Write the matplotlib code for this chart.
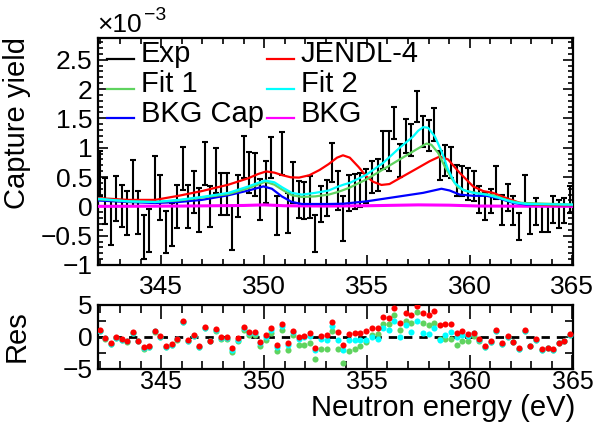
import matplotlib
matplotlib.use("Agg")
import matplotlib.pyplot as plt
from matplotlib.lines import Line2D
from matplotlib.ticker import MultipleLocator, FuncFormatter

plt.rcParams["font.family"] = ["Liberation Sans", "DejaVu Sans"]

# measured points (capture yield in units of 1e-3)
energy = [342.00, 342.27, 342.54, 342.81, 343.08, 343.35, 343.62, 343.89, 344.15, 344.42,
          344.69, 344.96, 345.23, 345.50, 345.77, 346.04, 346.31, 346.58, 346.85, 347.12,
          347.39, 347.66, 347.92, 348.19, 348.46, 348.73, 349.00, 349.27, 349.54, 349.81,
          350.08, 350.35, 350.62, 350.89, 351.16, 351.43, 351.69, 351.96, 352.23, 352.50,
          352.77, 353.04, 353.31, 353.59, 353.86, 354.14, 354.41, 354.69, 354.96, 355.24,
          355.52, 355.79, 356.07, 356.34, 356.62, 356.89, 357.17, 357.45, 357.72, 358.00,
          358.27, 358.55, 358.82, 359.10, 359.37, 359.65, 359.93, 360.20, 360.48, 360.75,
          361.03, 361.30, 361.58, 361.86, 362.13, 362.41, 362.68, 362.96, 363.23, 363.51,
          363.79, 364.06, 364.34, 364.61, 364.89]
exp_y = [0.56, 0.09, -0.27, 0.13, 0.01, -0.11, 0.40, -0.11, -0.52, -0.41,
         0.46, 0.15, -0.44, -0.31, 0.00, 0.65, 0.00, 0.24, -0.06, 0.73,
         -0.01, 0.61, 0.21, 0.21, -0.37, 0.18, 0.84, 0.58, 0.54, 0.11,
         0.41, 0.83, -0.16, 0.90, -0.11, 0.41, 0.12, 0.10, 0.16, -0.46,
         0.04, 0.14, 0.75, 0.27, -0.21, 0.23, 0.25, 0.28, 0.35, 0.50,
         0.53, 0.96, 0.94, 1.42, 0.78, 1.20, 1.13, 1.70, 1.28, 1.21,
         1.39, 0.70, 0.78, 0.75, 0.44, 0.43, 0.38, 0.35, 0.11, 0.00,
         0.09, 0.40, -0.06, 0.15, -0.07, -0.34, 0.27, -0.24, -0.09, -0.20,
         -0.20, -0.05, -0.13, -0.07, 0.11]
exp_err = [0.39, 0.39, 0.39, 0.38, 0.36, 0.375, 0.39, 0.37, 0.375, 0.36,
           0.39, 0.39, 0.355, 0.37, 0.365, 0.37, 0.37, 0.36, 0.37, 0.365,
           0.35, 0.385, 0.35, 0.355, 0.37, 0.355, 0.355, 0.355, 0.37, 0.35,
           0.355, 0.35, 0.33, 0.36, 0.34, 0.35, 0.32, 0.31, 0.355, 0.31,
           0.30, 0.31, 0.33, 0.33, 0.38, 0.31, 0.30, 0.29, 0.29, 0.28,
           0.27, 0.33, 0.34, 0.28, 0.28, 0.29, 0.28, 0.26, 0.26, 0.27,
           0.28, 0.25, 0.27, 0.27, 0.27, 0.26, 0.27, 0.26, 0.23, 0.23,
           0.20, 0.28, 0.26, 0.23, 0.24, 0.23, 0.27, 0.24, 0.23, 0.23,
           0.23, 0.23, 0.24, 0.21, 0.23]

# model curves
jendl_e = [341.92, 343.40, 344.70, 345.84, 346.97, 348.27, 349.24, 349.70, 350.10, 350.50,
           350.90, 351.30, 351.70, 352.20, 352.70, 353.14, 353.55, 353.84, 354.17, 354.60,
           354.98, 355.30, 355.71, 356.10, 356.60, 357.41, 358.06, 358.55, 358.95, 359.52,
           360.17, 360.66, 361.14, 361.79, 362.44, 363.09, 364.00, 365.00]
jendl_y = [0.14, 0.11, 0.11, 0.18, 0.26, 0.37, 0.48, 0.55, 0.595, 0.575,
           0.53, 0.495, 0.49, 0.53, 0.62, 0.72, 0.83, 0.87, 0.83, 0.67,
           0.51, 0.42, 0.365, 0.38, 0.48, 0.64, 0.77, 0.85, 0.80, 0.57,
           0.34, 0.26, 0.23, 0.14, 0.06, 0.03, 0.02, 0.02]
fit2_e = [341.92, 343.40, 344.70, 345.84, 346.97, 348.27, 349.24, 349.70, 350.05, 350.50,
          350.90, 351.35, 351.84, 352.49, 353.14, 353.55, 353.87, 354.17, 354.98, 355.79,
          356.60, 357.25, 357.50, 357.74, 357.98, 358.31, 358.63, 358.95, 359.28, 359.68,
          360.17, 360.82, 361.47, 362.12, 362.77, 365.00]
fit2_y = [0.13, 0.085, 0.074, 0.11, 0.16, 0.23, 0.34, 0.40, 0.44, 0.41,
          0.32, 0.23, 0.20, 0.23, 0.27, 0.33, 0.37, 0.40, 0.54, 0.74,
          1.00, 1.19, 1.29, 1.35, 1.34, 1.19, 0.94, 0.63, 0.40, 0.28,
          0.23, 0.20, 0.14, 0.07, 0.04, 0.03]
fit1_e = [341.92, 343.40, 344.70, 345.84, 346.97, 348.27, 349.24, 349.70, 350.05, 350.50,
          350.90, 351.35, 351.84, 352.49, 353.14, 353.55, 353.87, 354.17, 354.98, 355.79,
          356.60, 357.41, 357.90, 358.14, 358.47, 358.79, 359.12, 359.44, 359.85, 360.50,
          361.14, 361.79, 362.44, 365.00]
fit1_y = [0.12, 0.085, 0.074, 0.10, 0.15, 0.21, 0.31, 0.37, 0.42, 0.37,
          0.28, 0.19, 0.16, 0.17, 0.20, 0.24, 0.28, 0.32, 0.46, 0.63,
          0.80, 0.97, 1.07, 1.05, 0.91, 0.68, 0.48, 0.32, 0.26, 0.22,
          0.19, 0.11, 0.06, 0.03]
bkgcap_e = [341.92, 343.40, 344.70, 345.84, 346.97, 348.27, 349.24, 349.97, 350.38, 350.86,
            351.35, 351.84, 353.14, 353.87, 354.98, 356.60, 357.74, 358.63, 359.03, 359.52,
            360.17, 360.82, 361.47, 362.12, 362.77, 365.00]
bkgcap_y = [0.10, 0.074, 0.057, 0.074, 0.11, 0.19, 0.27, 0.34, 0.30, 0.17,
            0.074, 0.04, 0.04, 0.045, 0.085, 0.17, 0.23, 0.30, 0.27, 0.20,
            0.18, 0.18, 0.13, 0.06, 0.03, 0.02]
bkg_e = [341.92, 346.0, 349.0, 350.0, 351.0, 353.0, 355.0, 357.5, 359.0, 360.5, 365.0]
bkg_y = [0.0, 0.005, 0.015, 0.025, 0.01, 0.005, 0.01, 0.025, 0.02, 0.005, 0.0]

# residuals
res_jendl = [1.1, -0.1, -1.0, 0.0, -0.35, -0.6, 0.73, -0.55, -1.6, -1.35,
             1.0, 0.15, -1.4, -1.15, -0.25, 2.5, -0.45, 0.3, -1.4, 1.6,
             -0.55, 1.2, 0.0, 0.0, -1.75, -0.2, 1.6, 0.73, 0.73, -0.75,
             0.3, 1.45, -1.25, 2.0, -0.9, 0.95, 0.05, 0.2, 0.57, -1.65,
             0.2, 0.35, 2.3, 0.73, -1.25, 0.47, 0.57, 0.68, 0.94, 1.35,
             1.35, 3.2, 3.0, 4.5, 2.2, 3.7, 3.4, 4.9, 3.8, 3.5,
             4.1, 1.8, 2.0, 2.0, 0.57, 0.94, 0.47, 0.68, -0.3, -1.4,
             -0.57, 1.1, -1.0, 0.15, -0.73, -1.77, 1.1, -1.35, -0.36, -1.9,
             -1.67, -1.93, -0.9, -0.63, 0.42]
res_fit2 = [0.95, -0.2, -1.15, -0.1, -0.45, -0.7, 0.6, -0.65, -1.75, -1.5,
            0.9, 0.05, -1.5, -1.25, -0.35, 2.35, -0.55, 0.2, -1.5, 1.4,
            -0.65, 1.05, -0.2, -0.2, -2.0, -0.45, 1.35, 0.57, 0.57, -1.0,
            -0.05, 1.1, -1.5, 1.7, -1.25, 0.73, -0.3, -0.05, 0.2, -2.0,
            -0.35, -0.45, 1.7, -0.45, -2.0, -0.47, -0.47, -0.47, -0.47, 0.05,
            -0.36, 1.35, 1.1, 2.5, 0.05, 1.9, 0.73, 2.5, 0.68, 0.47,
            1.35, -0.47, 0.3, 0.83, 0.05, 0.3, 0.2, 0.57, -0.47, -1.6,
            -0.73, 0.95, -1.1, 0.05, -0.85, -1.9, 1.0, -1.45, -0.45, -2.0,
            -1.75, -2.0, -1.0, -0.7, 0.35]
res_fit1 = [0.95, -0.25, -1.15, -0.15, -0.45, -0.75, 0.6, -0.7, -1.8, -1.5,
            0.85, 0.0, -1.55, -1.3, -0.4, 2.3, -0.6, 0.15, -1.55, 1.35,
            -0.7, 1.0, -0.35, -0.35, -2.3, -0.6, 1.1, 0.3, 0.3, -1.4,
            -0.45, 0.57, -2.2, 1.1, -2.0, 0.3, -1.25, -1.25, -1.0, -3.5,
            -1.9, -1.8, 1.0, -1.8, -4.0, -2.2, -1.8, -1.4, -0.73, 0.3,
            0.42, 2.1, 2.0, 3.4, 1.1, 2.5, 2.2, 3.85, 2.2, 1.9,
            2.2, -0.36, -0.36, -0.36, -1.25, -0.6, -0.6, 0.15, -0.57, -1.6,
            -0.75, 0.95, -1.1, 0.05, -0.85, -1.9, 1.0, -1.45, -0.45, -2.0,
            -1.75, -2.0, -1.0, -0.7, 0.35]

legend_labels = ["Exp", "JENDL-4", "Fit 1", "Fit 2", "BKG Cap", "BKG"]

RED, GREEN, CYAN, BLUE, MAG = "#ff0000", "#5fd35f", "#00ffff", "#0000ff", "#ff00ff"
legend_colors = ["black", RED, GREEN, CYAN, BLUE, MAG]
W, H = 600, 426
FS_TICK, FS_LAB = 19, 21


def fx(px):
    return px / W


def fy(py):
    return 1 - py / H


def fmt(v, _):
    return ("%g" % v).replace("-", "\u2212")


def style(ax, ymaj, ymin, xlen, ylen):
    ax.set_xlim(341.92, 365.03)
    ax.xaxis.set_major_locator(MultipleLocator(5))
    ax.xaxis.set_minor_locator(MultipleLocator(1))
    ax.yaxis.set_major_locator(MultipleLocator(ymaj))
    ax.yaxis.set_minor_locator(MultipleLocator(ymin))
    ax.xaxis.set_major_formatter(FuncFormatter(fmt))
    ax.yaxis.set_major_formatter(FuncFormatter(fmt))
    ax.tick_params(which="both", direction="in", top=True, right=True,
                   labelsize=FS_TICK, width=1.2, pad=4)
    ax.tick_params(axis="x", which="major", length=xlen[0])
    ax.tick_params(axis="x", which="minor", length=xlen[1])
    ax.tick_params(axis="y", which="major", length=ylen[0])
    ax.tick_params(axis="y", which="minor", length=ylen[1])
    for s in ax.spines.values():
        s.set_linewidth(1.6)


fig = plt.figure(figsize=(6, 4.26), dpi=100)
ax1 = fig.add_axes([fx(98), fy(265), 475 / W, 227 / H])
ax2 = fig.add_axes([fx(98), fy(369), 475 / W, 64 / H])

# top panel
ax1.errorbar(energy, exp_y, yerr=exp_err, fmt="none", ecolor="black",
             elinewidth=1.5, capsize=2.3, capthick=1.5, zorder=2)
ax1.plot(bkg_e, bkg_y, color=MAG, lw=2.2, zorder=3)
ax1.plot(bkgcap_e, bkgcap_y, color=BLUE, lw=1.6, zorder=3)
ax1.plot(jendl_e, jendl_y, color=RED, lw=1.6, zorder=3)
ax1.plot(fit1_e, fit1_y, color=GREEN, lw=1.6, zorder=3)
ax1.plot(fit2_e, fit2_y, color=CYAN, lw=1.6, zorder=3)
ax1.set_ylim(-1.0, 2.87)
style(ax1, 0.5, 0.1, (7, 4), (7, 3.5))
ax1.tick_params(axis="x", pad=7)

# legend, two columns, three rows (ROOT style, no frame)
for i, (lab, col) in enumerate(zip(legend_labels, legend_colors)):
    row, c = divmod(i, 2)
    x0 = 107 if c == 0 else 267
    y_line = 59 + row * 29.5
    fig.add_artist(Line2D([fx(x0), fx(x0 + 27)], [fy(y_line), fy(y_line)],
                          transform=fig.transFigure, color=col, lw=1.6))
    fig.text(fx(x0 + 34), fy(y_line + 3.5), lab, fontsize=FS_LAB,
             ha="left", va="baseline")

fig.text(fx(97), fy(32), "\u00d710", fontsize=19, ha="left", va="baseline")
fig.text(fx(144), fy(20), "\u22123", fontsize=14, ha="left", va="baseline")
fig.text(fx(17), fy(37), "Capture yield", fontsize=FS_LAB, rotation=90,
         ha="center", va="top")

# residual panel
ax2.axhline(0, color="black", lw=2, ls=(0, (3, 2.5)), zorder=1)
ax2.plot(energy, res_fit1, "o", color=GREEN, ms=4.4, mew=0, zorder=2)
ax2.plot(energy, res_fit2, "o", color=CYAN, ms=4.4, mew=0, zorder=3)
ax2.plot(energy, res_jendl, "o", color=RED, ms=4.4, mew=0, zorder=4)
ax2.set_ylim(-5, 5)
style(ax2, 5, 2.5, (10, 6), (6, 6))
ax2.tick_params(axis="x", labelsize=18, pad=1)
fig.text(fx(17), fy(336), "Res", fontsize=FS_LAB, rotation=90,
         ha="center", va="center")
fig.text(fx(575), fy(416), "Neutron energy (eV)", fontsize=21,
         ha="right", va="baseline")

fig.savefig("out.png", dpi=100)
